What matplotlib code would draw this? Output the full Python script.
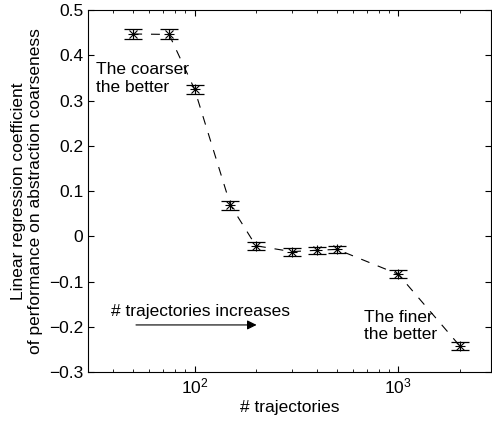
import numpy as np
import matplotlib
matplotlib.use("Agg")
import matplotlib.pyplot as plt

plt.rcParams['font.family'] = ['Liberation Sans', 'DejaVu Sans']

trayectorias = [50, 75, 100, 150, 200, 300, 400, 500, 1000, 2000]
coeficiente = [0.447, 0.446, 0.325, 0.069, -0.021, -0.034, -0.031, -0.029, -0.084, -0.242]
error = [0.011, 0.011, 0.010, 0.010, 0.009, 0.009, 0.008, 0.008, 0.009, 0.009]
ytick_vals = [-0.3, -0.2, -0.1, 0, 0.1, 0.2, 0.3, 0.4, 0.5]
ytick_labels = ['\u22120.3', '\u22120.2', '\u22120.1', '0', '0.1', '0.2', '0.3', '0.4', '0.5']

tam = 12.5

fig = plt.figure(figsize=(4.92, 4.21), dpi=100)
ax = fig.add_axes([88 / 492, 49 / 421, 403 / 492, 362 / 421])

ax.plot(trayectorias, coeficiente, color='black', linestyle=(0, (8, 8)), linewidth=0.8)
ax.errorbar(trayectorias, coeficiente, yerr=error, fmt='none', color='black',
            capsize=6.5, elinewidth=0.8, capthick=0.9)
# asterisco estilo MATLAB: + y x superpuestos
ax.plot(trayectorias, coeficiente, linestyle='none', marker='+', color='black',
        markersize=7, markeredgewidth=0.8)
ax.plot(trayectorias, coeficiente, linestyle='none', marker='x', color='black',
        markersize=5.5, markeredgewidth=0.8)

ax.set_xscale('log')
ax.set_xlim(30, 2850)
ax.set_ylim(-0.3, 0.5)
ax.set_yticks(ytick_vals)
ax.set_yticklabels(ytick_labels)

ax.tick_params(which='both', direction='in', top=True, right=True, labelsize=tam)
ax.tick_params(which='major', length=4)
ax.tick_params(which='minor', length=2)
for s in ax.spines.values():
    s.set_linewidth(0.8)

ax.set_xlabel('# trajectories', fontsize=tam, labelpad=2)
ax.set_ylabel('Linear regression coefficient\nof performance on abstraction coarseness',
              fontsize=tam, labelpad=4)

ax.text(33, 0.384, 'The coarser\nthe better', fontsize=tam, va='top', ha='left')
ax.text(676, -0.163, 'The finer\nthe better', fontsize=tam, va='top', ha='left')
ax.text(38.7, -0.167, '# trajectories increases', fontsize=tam, va='center', ha='left')
ax.annotate('', xy=(208, -0.196), xytext=(50, -0.196),
            arrowprops=dict(arrowstyle='-|>', color='black', lw=0.8,
                            mutation_scale=14))

fig.savefig('out.png', dpi=100)
